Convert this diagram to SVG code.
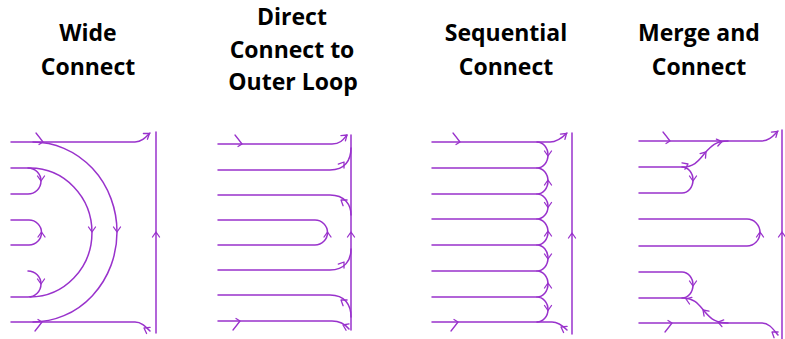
<svg xmlns="http://www.w3.org/2000/svg" xmlns:xlink="http://www.w3.org/1999/xlink" width="785" height="339" viewBox="0 0 785 339">
  <style>
    .title { font-family: "Open Sans", "Liberation Sans", sans-serif; font-weight: bold; font-size: 23px; fill: #000; text-anchor: middle; }
    .path { fill: none; stroke: #9932cc; stroke-width: 1.5; stroke-linecap: round; stroke-linejoin: round; }
    .tip { fill: none; stroke: #9932cc; stroke-width: 1.3; stroke-linecap: round; stroke-linejoin: round; }
  </style>
  <defs>
    <!-- open chevron pointing along +x -->
    <path id="ah" class="tip" d="M-5,-3.5 L0,0 L-5,3.5"/>
    <!-- asymmetric tick used on the entry/exit lines -->
    <path id="ahl" class="tip" d="M-7,-9 Q-3,-4 0,0 L-4,2.5"/>
  </defs>

  <rect width="785" height="339" fill="#fff"/>

  <!-- titles -->
  <g id="title-wide">
    <text class="title" x="88" y="41">Wide</text>
    <text class="title" x="88" y="75">Connect</text>
  </g>
  <g id="title-direct">
    <text class="title" x="292" y="25">Direct</text>
    <text class="title" x="292" y="57.5">Connect to</text>
    <text class="title" x="293" y="90">Outer Loop</text>
  </g>
  <g id="title-sequential">
    <text class="title" x="506" y="41">Sequential</text>
    <text class="title" x="506" y="75">Connect</text>
  </g>
  <g id="title-merge">
    <text class="title" x="699" y="41">Merge and</text>
    <text class="title" x="699" y="75">Connect</text>
  </g>

  <!-- Wide Connect -->
  <g id="wide-connect">
    <path class="path" d="M11,142 H135 C141,142 145,138 150,133"/>
    <path class="path" d="M33,142 A84,90 0 0 1 33,322"/>
    <path class="path" d="M11,168 H30 A62,64.5 0 0 1 30,297"/>
    <path class="path" d="M28,168 A13,13 0 0 1 28,194 H11"/>
    <path class="path" d="M11,220 H29 A12.5,12.5 0 0 1 29,245 H11"/>
    <path class="path" d="M28,271 A13,13 0 0 1 28,297 H11"/>
    <path class="path" d="M11,322 H135 C141,322 145,326 150,331"/>
    <path class="path" d="M156,132 V333"/>
    <use xlink:href="#ahl" transform="translate(43,142)"/>
    <use xlink:href="#ah" transform="translate(149.5,133.5) rotate(-35)"/>
    <use xlink:href="#ah" transform="translate(41,181) rotate(90)"/>
    <use xlink:href="#ah" transform="translate(41.5,232) rotate(-90)"/>
    <use xlink:href="#ah" transform="translate(41,284) rotate(90)"/>
    <use xlink:href="#ah" transform="translate(92,232) rotate(90)"/>
    <use xlink:href="#ah" transform="translate(117,232) rotate(90)"/>
    <use xlink:href="#ah" transform="translate(156,232) rotate(-90)"/>
    <use xlink:href="#ahl" transform="translate(42,322) scale(1,-1)"/>
    <use xlink:href="#ah" transform="translate(144,328) rotate(-150)"/>
  </g>

  <!-- Direct Connect to Outer Loop -->
  <g id="direct-connect">
    <path class="path" d="M218,144 H332 C340,144 343,140 347,135"/>
    <path class="path" d="M218,170 H330 C345,170 351,160 351,148"/>
    <path class="path" d="M218,195 H330 C345,195 351,205 351,215"/>
    <path class="path" d="M218,220 H315 A12.5,12.5 0 0 1 315,245 H218"/>
    <path class="path" d="M218,270 H330 C345,270 351,260 351,249"/>
    <path class="path" d="M218,295 H330 C345,295 351,305 351,317"/>
    <path class="path" d="M218,321 H332 C340,321 345,324 349,329"/>
    <path class="path" d="M351,135 V330"/>
    <use xlink:href="#ahl" transform="translate(242,144)"/>
    <use xlink:href="#ah" transform="translate(347,135) rotate(-40)"/>
    <use xlink:href="#ah" transform="translate(344,162) rotate(-55)"/>
    <use xlink:href="#ah" transform="translate(341,200) rotate(-145)"/>
    <use xlink:href="#ah" transform="translate(327.5,232) rotate(-90)"/>
    <use xlink:href="#ah" transform="translate(344,262) rotate(-55)"/>
    <use xlink:href="#ah" transform="translate(341,300) rotate(-145)"/>
    <use xlink:href="#ah" transform="translate(343,325) rotate(-155)"/>
    <use xlink:href="#ah" transform="translate(351,232) rotate(-90)"/>
    <use xlink:href="#ahl" transform="translate(240,321) scale(1,-1)"/>
  </g>

  <!-- Sequential Connect -->
  <g id="sequential-connect">
    <path class="path" d="M432,142 H550 C557,142 562,138 567,133"/>
    <path class="path" d="M432,168 H537"/>
    <path class="path" d="M432,194 H537"/>
    <path class="path" d="M432,219 H537"/>
    <path class="path" d="M432,245 H537"/>
    <path class="path" d="M432,271 H537"/>
    <path class="path" d="M432,297 H537"/>
    <path class="path" d="M432,322 H552 C558,322 563,326 567,330"/>
    <path class="path" d="M537,142 A11,13 0 0 1 537,168 A11,13 0 0 1 537,194 A11,12.5 0 0 1 537,219 A11,13 0 0 1 537,245 A11,13 0 0 1 537,271 A11,13 0 0 1 537,297 A11,12.5 0 0 1 537,322"/>
    <path class="path" d="M572,133 V334"/>
    <use xlink:href="#ahl" transform="translate(460,142)"/>
    <use xlink:href="#ah" transform="translate(566.5,133.5) rotate(-40)"/>
    <use xlink:href="#ah" transform="translate(548,156) rotate(90)"/>
    <use xlink:href="#ah" transform="translate(548,180) rotate(-90)"/>
    <use xlink:href="#ah" transform="translate(548,207.5) rotate(90)"/>
    <use xlink:href="#ah" transform="translate(548,231) rotate(-90)"/>
    <use xlink:href="#ah" transform="translate(548,259) rotate(90)"/>
    <use xlink:href="#ah" transform="translate(548,283) rotate(-90)"/>
    <use xlink:href="#ah" transform="translate(548,310.5) rotate(90)"/>
    <use xlink:href="#ah" transform="translate(572,233) rotate(-90)"/>
    <use xlink:href="#ahl" transform="translate(458,322) scale(1,-1)"/>
    <use xlink:href="#ah" transform="translate(561,327) rotate(-150)"/>
  </g>

  <!-- Merge and Connect -->
  <g id="merge-connect">
    <path class="path" d="M639,141 H762 C769,141 773,136 778,131"/>
    <path class="path" d="M639,167 H682 A11,13 0 0 1 682,193 H639"/>
    <path class="path" d="M682,167 C695,167 699,160 705,153 C711,146 716,141 728,141"/>
    <path class="path" d="M639,219 H747 A13,13.5 0 0 1 747,246 H639"/>
    <path class="path" d="M639,272 H682 A11,13 0 0 1 682,298 H639"/>
    <path class="path" d="M682,298 C695,298 699,305 705,312 C711,319 716,323 728,323"/>
    <path class="path" d="M639,323 H762 C769,323 773,329 778,335"/>
    <path class="path" d="M782,130 V339"/>
    <use xlink:href="#ahl" transform="translate(670,141)"/>
    <use xlink:href="#ah" transform="translate(777.5,131.5) rotate(-40)"/>
    <use xlink:href="#ah" transform="translate(688,164) rotate(-25)"/>
    <use xlink:href="#ah" transform="translate(706,152) rotate(-50)"/>
    <use xlink:href="#ah" transform="translate(722,141.5) rotate(-12)"/>
    <use xlink:href="#ah" transform="translate(693,181) rotate(90)"/>
    <use xlink:href="#ah" transform="translate(760,232) rotate(-90)"/>
    <use xlink:href="#ah" transform="translate(693,286) rotate(90)"/>
    <use xlink:href="#ah" transform="translate(686,299) rotate(-160)"/>
    <use xlink:href="#ah" transform="translate(703,310) rotate(-135)"/>
    <use xlink:href="#ah" transform="translate(718,322) rotate(-165)"/>
    <use xlink:href="#ahl" transform="translate(672,323) scale(1,-1)"/>
    <use xlink:href="#ah" transform="translate(772,332) rotate(-145)"/>
    <use xlink:href="#ah" transform="translate(782,232) rotate(-90)"/>
  </g>
</svg>
